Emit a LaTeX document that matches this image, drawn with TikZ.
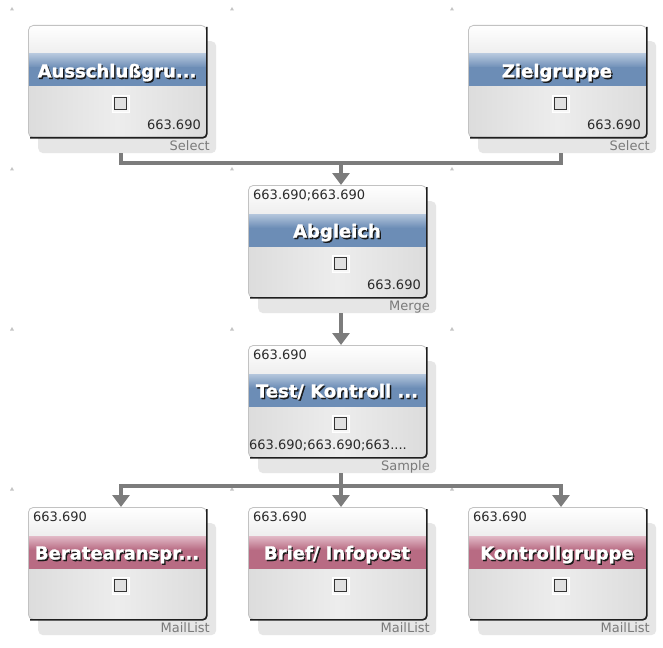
\documentclass[tikz,border=0pt]{standalone}
\usepackage{fontspec}
\setmainfont{DejaVu Sans}
\newfontfamily\titlefont[FakeBold=1.2]{DejaVu Sans Bold}
\usetikzlibrary{arrows.meta,calc}
\definecolor{linegray}{HTML}{7C7C7C}
\definecolor{shadowgray}{HTML}{E6E6E6}
\definecolor{blueTop}{HTML}{B4C6DC}
\definecolor{blueBot}{HTML}{6C8DB6}
\definecolor{pinkTop}{HTML}{E2BAC7}
\definecolor{pinkBot}{HTML}{B86B83}
\definecolor{tickgray}{HTML}{C4C4C4}
\definecolor{labgray}{HTML}{7A7A7A}
\definecolor{lowEdge}{HTML}{DCDCDC}
\definecolor{lowMid}{HTML}{EDEDED}
\definecolor{topLow}{HTML}{EEEEEE}
\definecolor{rimgray}{HTML}{C2C2C2}
\definecolor{numtextc}{HTML}{2A2A2A}
\tikzset{
  shadowbox/.style={rectangle, rounded corners=5pt, fill=shadowgray, draw=none,
    minimum width=178pt, minimum height=112pt, inner sep=0pt, anchor=north west},
  boxbody/.style={rectangle, rounded corners=5pt, draw=rimgray, line width=0.8pt,
    minimum width=178pt, minimum height=112pt, inner sep=0pt, anchor=north west},
  darkedge/.style={draw=black!88, line width=1.6pt, rounded corners=4pt},
  titletext/.style={text=white, font=\fontsize{18}{20}\selectfont\titlefont, inner sep=0pt, anchor=base},
  titleshadow/.style={text=black!90, font=\fontsize{18}{20}\selectfont\titlefont, inner sep=0pt, anchor=base},
  numtext/.style={text=numtextc, font=\fontsize{13}{15}\selectfont, inner sep=0pt},
  typetext/.style={text=labgray, font=\fontsize{13}{15}\selectfont, inner sep=0pt, anchor=base east},
  chkouter/.style={rectangle, fill=white!97!black, draw=white, minimum size=17pt, inner sep=0pt},
  chk/.style={rectangle, fill=black!12, draw=black!80, line width=1.4pt, minimum size=12.5pt, inner sep=0pt},
  conn/.style={draw=linegray, line width=4.5pt},
  tip/.style={-{Triangle[width=17pt,length=12pt]}},
  tickmark/.style={fill=tickgray}
}
% name, left, top, title, band colour, type label
\newcommand\opbox[6]{%
  \node[shadowbox] (#1S) at (#2+10,#3+16) {};
  \begin{scope}
    \clip[rounded corners=5pt] (#2,#3) rectangle ++(178,112);
    \shade[top color=white, bottom color=topLow] (#2,#3) rectangle ++(178,29);
    \shade[top color=#5Top, bottom color=#5Bot] (#2,#3+29) rectangle ++(178,14);
    \fill[#5Bot] (#2,#3+42.5) rectangle ++(178,19.5);
    \shade[left color=lowEdge, right color=lowEdge, middle color=lowMid] (#2,#3+62) rectangle ++(178,50);
  \end{scope}
  \node[boxbody] (#1) at (#2,#3) {};
  \draw[darkedge] ($(#1.south west)+(2,0)$) -- (#1.south east) -- ($(#1.north east)+(0,2)$);
  \node[titleshadow] (#1ts) at ($(#1.north west)+(90.3,54)$) {#4};
  \node[titletext] (#1tt) at ($(#1.north west)+(89,52.5)$) {#4};
  \node[chkouter] (#1co) at ($(#1.north west)+(93,79)$) {};
  \node[chk] (#1c) at ($(#1.north west)+(92.5,78.5)$) {};
  \node[typetext] (#1ty) at ($(#1.north west)+(182,125.5)$) {#6};
}
\begin{document}
\begin{tikzpicture}[x=1pt,y=-1pt]
\useasboundingbox[fill=white] (0,0) rectangle (663,647);
% grid ticks
\foreach \gx in {12,232,452}{
  \foreach \gy in {9,169,329,489}{
    \fill[tickmark] (\gx-2,\gy+1.5) -- (\gx+2,\gy+1.5) -- (\gx,\gy-2) -- cycle;
  }
}
% boxes
\opbox{aus}{28}{25}{Ausschlußgru...}{blue}{Select}
\opbox{ziel}{468}{25}{Zielgruppe}{blue}{Select}
\opbox{abg}{248}{185}{Abgleich}{blue}{Merge}
\opbox{test}{248}{345}{Test/ Kontroll ...}{blue}{Sample}
\opbox{ber}{28}{507}{Beratearanspr...}{pink}{MailList}
\opbox{brief}{248}{507}{Brief/ Infopost}{pink}{MailList}
\opbox{kg}{468}{507}{Kontrollgruppe}{pink}{MailList}
% numbers
\node[numtext, anchor=base east] (ausn) at ($(aus.north west)+(173,104.5)$) {663.690};
\node[numtext, anchor=base east] (zieln) at ($(ziel.north west)+(173,104.5)$) {663.690};
\node[numtext, anchor=base west] (abgi) at ($(abg.north west)+(5,14.5)$) {663.690;663.690};
\node[numtext, anchor=base east] (abgn) at ($(abg.north west)+(173,104.5)$) {663.690};
\node[numtext, anchor=base west] (testi) at ($(test.north west)+(5,14.5)$) {663.690};
\node[numtext, anchor=base west] (testn) at ($(test.north west)+(1,104.5)$) {663.690;663.690;663....};
\node[numtext, anchor=base west] (beri) at ($(ber.north west)+(5,14.5)$) {663.690};
\node[numtext, anchor=base west] (briefi) at ($(brief.north west)+(5,14.5)$) {663.690};
\node[numtext, anchor=base west] (kgi) at ($(kg.north west)+(5,14.5)$) {663.690};
% connectors
\coordinate (hubA) at (341,163);
\coordinate (hubB) at (341,486);
\draw[conn] ($(ausS.south west)+(83,0)$) |- (hubA);
\draw[conn] ($(zielS.south west)+(83,0)$) |- (hubA);
\draw[conn,tip] (hubA) -- ($(abg.north west)+(93,0)$);
\draw[conn,tip] ($(abgS.south west)+(83,0)$) -- ($(test.north west)+(93,0)$);
\draw[conn] ($(testS.south west)+(83,0)$) -- (hubB);
\draw[conn,tip] (hubB) -| ($(ber.north west)+(93,0)$);
\draw[conn,tip] (hubB) -- ($(brief.north west)+(93,0)$);
\draw[conn,tip] (hubB) -| ($(kg.north west)+(93,0)$);
\end{tikzpicture}
\end{document}
